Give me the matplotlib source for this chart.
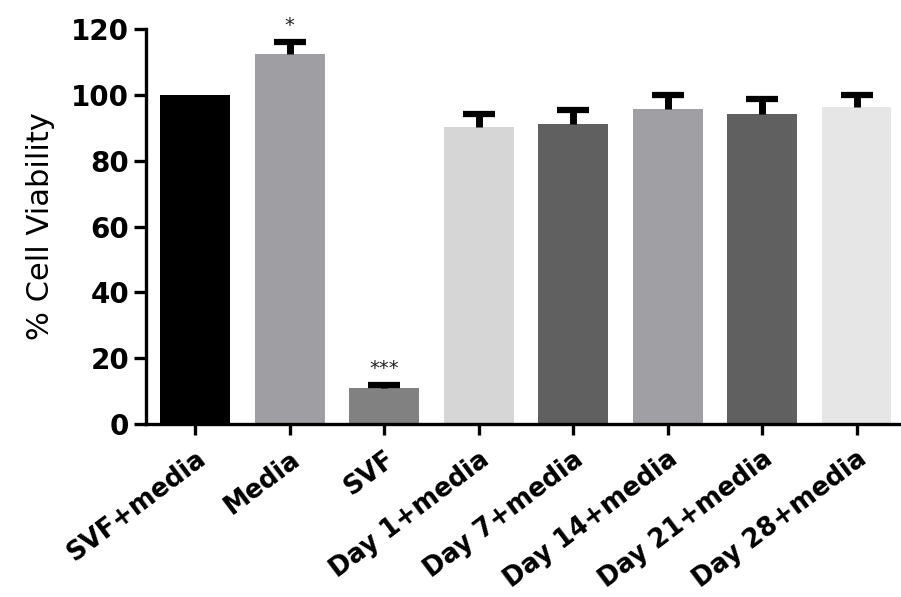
import matplotlib.pyplot as plt

plt.rcParams['font.family'] = ['DejaVu Sans']

groups = ["SVF+media", "Media", "SVF", "Day 1+media", "Day 7+media",
          "Day 14+media", "Day 21+media", "Day 28+media"]
viability = [100, 112.3, 11, 90.3, 91.1, 95.8, 94.3, 96.2]
sem = [0, 3.8, 1.0, 4.0, 4.3, 4.0, 4.4, 3.9]
bar_colors = ["#000000", "#9f9fa3", "#818181", "#d6d6d6", "#606060",
              "#a0a0a4", "#606060", "#e6e6e6"]
significance = {1: "*", 2: "***"}

fig = plt.figure(figsize=(9.01, 5.97), dpi=100)
ax = fig.add_axes([146 / 901, 1 - 424 / 597, (900 - 146) / 901, (424 - 29) / 597])

x = list(range(len(groups)))
ax.bar(x, viability, width=0.74, color=bar_colors, zorder=2)

# one-sided (upper) error bars: stem plus a cap on top only
ex = [i for i in x if sem[i] > 0]
ev = [viability[i] for i in ex]
tops = [viability[i] + sem[i] for i in ex]
ax.errorbar(ex, ev, yerr=[[0] * len(ex), [sem[i] for i in ex]], fmt='none',
            ecolor='black', elinewidth=5, capsize=0, zorder=3)
ax.plot(ex, tops, linestyle='none', marker='_', markersize=23,
        markeredgewidth=4.5, color='black', zorder=3)

for i, mark in significance.items():
    ax.text(i, viability[i] + sem[i] + 2.0, mark, ha='center', va='bottom',
            fontsize=14, color='#222222')

ax.set_xlim(-0.52, 7.46)
ax.set_ylim(0, 120)
ax.set_yticks(range(0, 121, 20))
ax.set_xticks(x)
ax.set_xticklabels(groups, rotation=37, ha='right', rotation_mode='anchor',
                   fontsize=18.5, fontweight='bold')
for lbl in ax.get_yticklabels():
    lbl.set_fontsize(20)
    lbl.set_fontweight('bold')
ax.set_ylabel('% Cell Viability', fontsize=22, labelpad=12)

ax.spines['top'].set_visible(False)
ax.spines['right'].set_visible(False)
ax.spines['left'].set_linewidth(2.4)
ax.spines['bottom'].set_linewidth(2.4)
ax.tick_params(axis='y', length=9, width=2.4, pad=3)
ax.tick_params(axis='x', length=8, width=2.4, pad=8)

fig.savefig('out.png', dpi=100)
